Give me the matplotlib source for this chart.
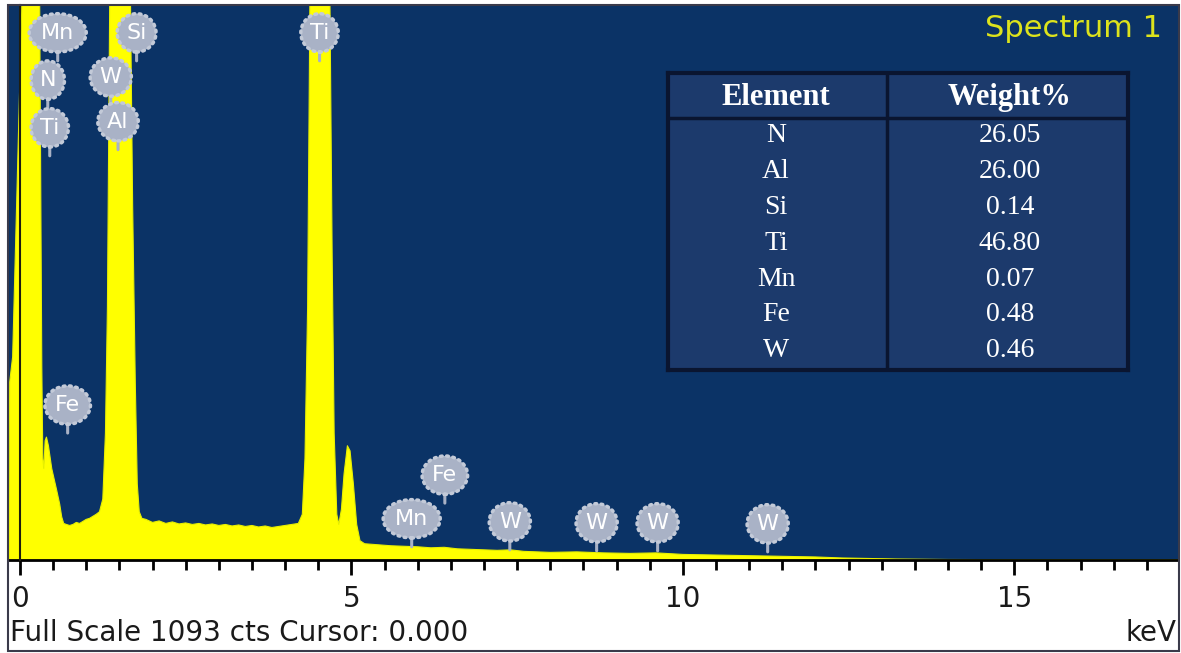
import matplotlib.pyplot as plt
import matplotlib.patches as mpatches
import numpy as np

# EDS spectrum (keV, counts)
energy = [-0.18, -0.17, -0.155, -0.11, -0.05, 0.03, 0.06, 0.10, 0.17, 0.24, 0.28, 0.30,
          0.32, 0.33, 0.345, 0.36, 0.38, 0.40, 0.43, 0.48, 0.55, 0.60, 0.63, 0.66, 0.70, 0.75,
          0.80, 0.85, 0.90, 0.95, 1.00, 1.05, 1.10, 1.15, 1.20, 1.25, 1.29, 1.32, 1.36, 1.40,
          1.48, 1.54, 1.60, 1.66, 1.70, 1.74, 1.77, 1.80, 1.84, 1.90, 2.00, 2.10, 2.20, 2.30,
          2.40, 2.50, 2.60, 2.70, 2.80, 2.90, 3.00, 3.10, 3.20, 3.30, 3.40, 3.50, 3.60, 3.70,
          3.80, 3.90, 4.00, 4.10, 4.20, 4.26, 4.30, 4.34, 4.38, 4.44, 4.55, 4.62, 4.67, 4.71,
          4.74, 4.78, 4.81, 4.85, 4.89, 4.94, 4.98, 5.03, 5.08, 5.13, 5.20, 5.40, 5.60, 5.80,
          6.00, 6.20, 6.40, 6.60, 6.80, 7.00, 7.20, 7.40, 7.60, 7.80, 8.00, 8.40, 8.80, 9.20,
          9.60, 10.0, 10.4, 10.8, 11.2, 11.6, 12.0, 12.4, 12.8, 13.2, 14.0, 17.5]
counts = [0, 0, 350, 400, 700, 1100, 1600, 2200, 2600, 2200, 1500, 1050,
          600, 380, 200, 180, 235, 242, 225, 180, 140, 110, 85, 72, 70, 68,
          70, 74, 72, 76, 80, 82, 86, 90, 95, 120, 250, 500, 1200, 1800,
          2000, 2100, 1800, 1200, 700, 350, 150, 95, 82, 80, 74, 77, 72, 75,
          71, 73, 70, 72, 69, 71, 68, 70, 67, 69, 66, 68, 65, 67,
          64, 66, 68, 70, 72, 90, 200, 500, 1200, 1900, 2100, 1800, 1200, 600,
          250, 90, 70, 100, 170, 225, 215, 150, 70, 38, 32, 30, 28, 27,
          26, 24, 25, 22, 21, 20, 19, 20, 17, 16, 15, 16, 14, 13,
          14, 11, 10, 9, 8, 7, 6, 4, 3, 2, 1, 0]

# element markers: name, energy of stem tip, counts of stem tip
marker_names = ['Mn', 'Si', 'Ti', 'N', 'W', 'Ti', 'Al', 'Fe', 'Fe', 'Mn', 'W', 'W', 'W', 'W']
marker_kev   = [0.57, 1.76, 4.52, 0.42, 1.37, 0.45, 1.48, 0.72, 6.41, 5.91, 7.39, 8.70, 9.62, 11.28]
marker_tip   = [983, 983, 983, 890, 896, 796, 808, 250, 112, 26, 20, 18, 18, 16]

# quantification table
elements = ['N', 'Al', 'Si', 'Ti', 'Mn', 'Fe', 'W']
weights  = ['26.05', '26.00', '0.14', '46.80', '0.07', '0.48', '0.46']

W, H = 1181, 653
fig = plt.figure(figsize=(W / 100, H / 100), dpi=100, facecolor='white')

ax = fig.add_axes([8 / W, (H - 560) / H, 1170 / W, 555 / H])
ax.set_facecolor('#0b3366')
ax.set_xlim(-0.18, 17.47)
ax.set_ylim(0, 1093)

ax.fill_between(energy, counts, 0, color='#ffff00', lw=0.8, ec='#e8f000', zorder=2)

# axes styling
for s in ['top', 'right']:
    ax.spines[s].set_visible(False)
ax.spines['left'].set_position(('data', 0))
ax.spines['left'].set_color('#1e1e10')
ax.spines['left'].set_linewidth(1.5)
ax.spines['left'].set_zorder(3)
ax.spines['bottom'].set_color('black')
ax.spines['bottom'].set_linewidth(2)
ax.set_yticks([])
ax.set_xticks([0, 5, 10, 15])
ax.set_xticks(np.arange(0, 17.5, 0.5), minor=True)
ax.tick_params(axis='x', which='major', direction='out', length=11, width=2, color='black',
               labelsize=20, labelcolor='#1a1a1a', pad=7)
ax.tick_params(axis='x', which='minor', direction='out', length=7, width=2, color='black')
for lbl in ax.get_xticklabels():
    lbl.set_fontfamily('DejaVu Sans')

# element markers (grey clouds with stems)
for name, e, c in zip(marker_names, marker_kev, marker_tip):
    ax.annotate(name, xy=(e, c), xytext=(0, 28), textcoords='offset pixels',
                ha='center', va='center', fontsize=16, color='white', family='DejaVu Sans',
                bbox=dict(boxstyle='ellipse,pad=0.16', fc='#a9b2c6', ec='#c3cad8', lw=2.5,
                          ls=(0, (0.5, 1.3)), capstyle='round'),
                arrowprops=dict(arrowstyle='-', color='#a9b2c6', lw=2.2, shrinkA=0, shrinkB=0),
                zorder=5, annotation_clip=False)

ax.text(0.986, 0.958, 'Spectrum 1', transform=ax.transAxes, ha='right', va='center',
        fontsize=22, color='#dde31c', family='DejaVu Sans')

# quantification table
tab = fig.add_axes([668 / W, (H - 370) / H, 460 / W, 297 / H])
tab.set_facecolor('#1c3a6c')
tab.set_xlim(0, 1)
tab.set_ylim(0, 1)
tab.set_xticks([])
tab.set_yticks([])
for s in tab.spines.values():
    s.set_color('#0a1530')
    s.set_linewidth(3)
tab.axhline(0.848, color='#0a1530', lw=2.5)
tab.axvline(0.476, color='#0a1530', lw=2.5)
tab.text(0.235, 0.918, 'Element', ha='center', va='center', fontsize=22, fontweight='bold',
         color='white', family='Liberation Serif')
tab.text(0.743, 0.918, 'Weight%', ha='center', va='center', fontsize=22, fontweight='bold',
         color='white', family='Liberation Serif')
for i, (el, wt) in enumerate(zip(elements, weights)):
    y = 0.788 - i * 0.1205
    tab.text(0.235, y, el, ha='center', va='center', fontsize=20, color='white',
             family='Liberation Serif')
    tab.text(0.743, y, wt, ha='center', va='center', fontsize=20, color='white',
             family='Liberation Serif')

# footer text
fig.text(10 / W, (H - 633) / H, 'Full Scale 1093 cts Cursor: 0.000', ha='left', va='center',
         fontsize=20, color='#1a1a1a', family='DejaVu Sans')
fig.text(1177 / W, (H - 633) / H, 'keV', ha='right', va='center',
         fontsize=20, color='#1a1a1a', family='DejaVu Sans')

# thin frame around the whole panel
fig.patches.append(mpatches.Rectangle((8 / W, 2 / H), 1171 / W, 646 / H, transform=fig.transFigure,
                                      fill=False, ec='#3a3a4a', lw=1.5))

fig.savefig('out.png', dpi=100, facecolor='white')
